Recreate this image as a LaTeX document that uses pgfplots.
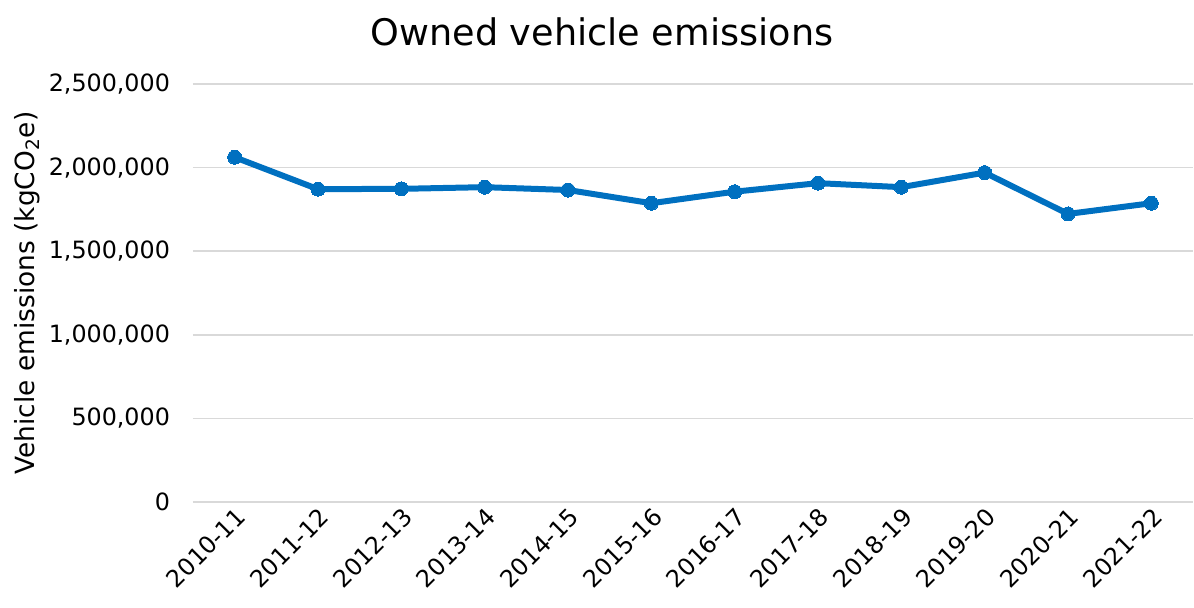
\documentclass[border=0pt]{standalone}
\usepackage{fontspec}
\setmainfont{DejaVu Sans}
\usepackage{pgfplots}
\pgfplotsset{compat=1.18}
\definecolor{lineblue}{RGB}{0,112,192}
\definecolor{gridgray}{RGB}{217,217,217}

\begin{document}
\begin{tikzpicture}
\useasboundingbox (-96.5pt,-52.5pt) rectangle (500.5pt,251pt);
\begin{axis}[
    scale only axis,
    width=500pt, height=209pt,
    xmin=-0.5, xmax=11.5,
    ymin=0, ymax=2500000,
    axis line style={draw=none},
    ytick={0,500000,1000000,1500000,2000000,2500000},
    ymajorgrids,
    grid style={gridgray, line width=0.8pt},
    xtick={0,...,11},
    xticklabels={2010-11,2011-12,2012-13,2013-14,2014-15,2015-16,2016-17,2017-18,2018-19,2019-20,2020-21,2021-22},
    scaled y ticks=false,
    /pgf/number format/.cd, fixed, precision=0, 1000 sep={,}, assume math mode=true,
    /pgfplots/.cd,
    tick label style={font=\fontsize{11.9}{13}\selectfont, black},
    yticklabel style={xshift=-8pt},
    xticklabel style={rotate=45, anchor=east, xshift=2pt, yshift=-6pt},
    major tick length=0pt,
    tick style={draw=none},
    ylabel={Vehicle emissions (kgCO\textsubscript{2}e)},
    ylabel style={font=\fontsize{13.2}{15}\selectfont, at={(rel axis cs:0,0.5)}, yshift=83pt, anchor=center},
    title={Owned vehicle emissions},
    title style={font=\fontsize{18.3}{21}\selectfont, at={(rel axis cs:0.409,1)}, anchor=center, yshift=20pt},
    clip=false,
]
\addplot[lineblue, line width=3pt, mark=*, mark size=3.5pt, mark options={fill=lineblue, draw=lineblue, line width=0pt}]
coordinates {
(0,2062000) (1,1871000) (2,1873000) (3,1883000) (4,1866000) (5,1787000)
(6,1856000) (7,1907000) (8,1883000) (9,1970000) (10,1723000) (11,1787000)
};
\end{axis}
\end{tikzpicture}
\end{document}
